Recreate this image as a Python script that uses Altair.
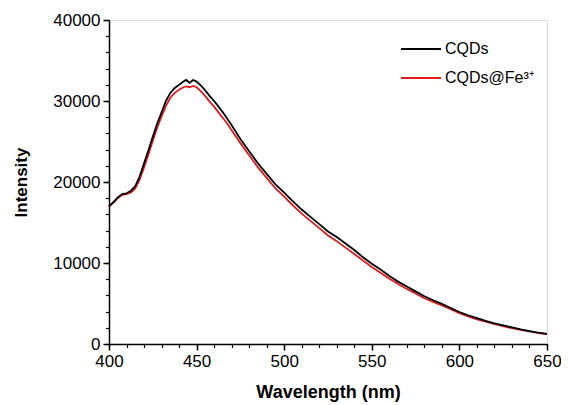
import altair as alt
import pandas as pd

wavelength = [400, 402.5, 405, 407.5, 410, 412.5, 415, 417.5, 420, 422.5, 425, 427.5,
              430, 432.5, 435, 437.5, 440, 442.5, 444, 446, 448, 450, 452.5, 455,
              457.5, 460, 462.5, 465, 467.5, 470, 475, 480, 485, 490, 495, 500, 505,
              510, 515, 520, 525, 530, 535, 540, 545, 550, 555, 560, 565, 570, 575,
              580, 585, 590, 595, 600, 605, 610, 615, 620, 625, 630, 635, 640, 645, 650]

cqds = [17000, 17500, 18100, 18500, 18600, 18900, 19500, 20700, 22300, 23900, 25600, 27200,
        28600, 30000, 31000, 31600, 32000, 32400, 32600, 32250, 32600, 32400, 31900, 31300,
        30600, 30000, 29300, 28600, 27800, 27000, 25300, 23800, 22300, 21000, 19700, 18700, 17600,
        16600, 15700, 14800, 13900, 13200, 12400, 11600, 10700, 9900, 9200, 8400, 7700, 7100, 6500,
        5900, 5400, 4950, 4450, 3950, 3550, 3200, 2850, 2550, 2300, 2050, 1800, 1600, 1400, 1250]

cqds_fe = [17000, 17450, 18000, 18400, 18500, 18700, 19200, 20300, 21800, 23400, 25100, 26700,
           28100, 29400, 30400, 31000, 31400, 31700, 31800, 31700, 31850, 31700, 31200, 30600,
           29900, 29300, 28600, 27900, 27200, 26400, 24800, 23300, 21800, 20500, 19200, 18200, 17100,
           16100, 15200, 14300, 13400, 12700, 11900, 11100, 10300, 9500, 8800, 8050, 7400, 6800, 6250,
           5650, 5200, 4750, 4300, 3800, 3400, 3050, 2750, 2450, 2200, 1950, 1750, 1550, 1350, 1220]

series_names = ["CQDs", "CQDs@Fe³⁺"]
series_colors = ["#000000", "#e3191c"]

x_major = [400, 450, 500, 550, 600, 650]
x_minor = list(range(400, 651, 10))
y_major = [0, 10000, 20000, 30000, 40000]
y_minor = list(range(0, 40001, 2000))

df_black = pd.DataFrame({"wl": wavelength, "val": cqds, "series": series_names[0]})
df_red = pd.DataFrame({"wl": wavelength, "val": cqds_fe, "series": series_names[1]})

FONT = "Liberation Sans"

xscale = alt.Scale(domain=[400, 650], nice=False, zero=False)
yscale = alt.Scale(domain=[0, 40000], nice=False)
color = alt.Color(
    "series:N",
    scale=alt.Scale(domain=series_names, range=series_colors),
    legend=alt.Legend(
        title="",
        orient="none", legendX=291, legendY=8,
        symbolType="stroke", symbolSize=1600, symbolStrokeWidth=2,
        labelFont=FONT, labelFontSize=16, labelColor="black",
        labelOffset=3, rowPadding=-18, padding=0,
    ),
)

major_x = alt.Axis(values=x_major, ticks=True, tickSize=6, tickWidth=1.5, tickColor="black",
                   domainColor="black", domainWidth=1.5, grid=False, format="d",
                   labelFlush=False, labelOverlap=False,
                   labelFont=FONT, labelFontSize=17, labelColor="black", labelPadding=3,
                   title="Wavelength (nm)", titleFont=FONT, titleFontSize=18,
                   titleFontWeight="bold", titleColor="black", titlePadding=14, orient="bottom")
major_y = alt.Axis(values=y_major, ticks=True, tickSize=6, tickWidth=1.5, tickColor="black",
                   domainColor="black", domainWidth=1.5, grid=False, format="d",
                   labelFlush=False, labelOverlap=False,
                   labelFont=FONT, labelFontSize=17, labelColor="black", labelPadding=3,
                   title="Intensity", titleFont=FONT, titleFontSize=17,
                   titleFontWeight="bold", titleColor="black", titlePadding=22, orient="left")
minor_x = alt.Axis(values=x_minor, ticks=True, tickSize=3.5, tickWidth=1.2, tickColor="black",
                   domain=False, labels=False, grid=False, title="", orient="bottom")
minor_y = alt.Axis(values=y_minor, ticks=True, tickSize=3.5, tickWidth=1.2, tickColor="black",
                   domain=False, labels=False, grid=False, title="", orient="left")

red = alt.Chart(df_red).mark_line(strokeWidth=1.8).encode(
    x=alt.X("wl:Q", scale=xscale, axis=major_x),
    y=alt.Y("val:Q", scale=yscale, axis=major_y),
    color=color,
)
black = alt.Chart(df_black).mark_line(strokeWidth=1.8).encode(
    x=alt.X("wl:Q", scale=xscale, axis=minor_x),
    y=alt.Y("val:Q", scale=yscale, axis=minor_y),
    color=color,
)

chart = alt.layer(red, black).resolve_axis(x="independent", y="independent").properties(
    width=438, height=324,
    autosize=alt.AutoSizeParams(type="none"),
    padding={"left": 101, "top": 12, "right": 14, "bottom": 61},
).configure_view(stroke="black", strokeWidth=1.5).configure(background="white")

chart.save("out.html", embed_options={"renderer": "svg", "actions": False})
